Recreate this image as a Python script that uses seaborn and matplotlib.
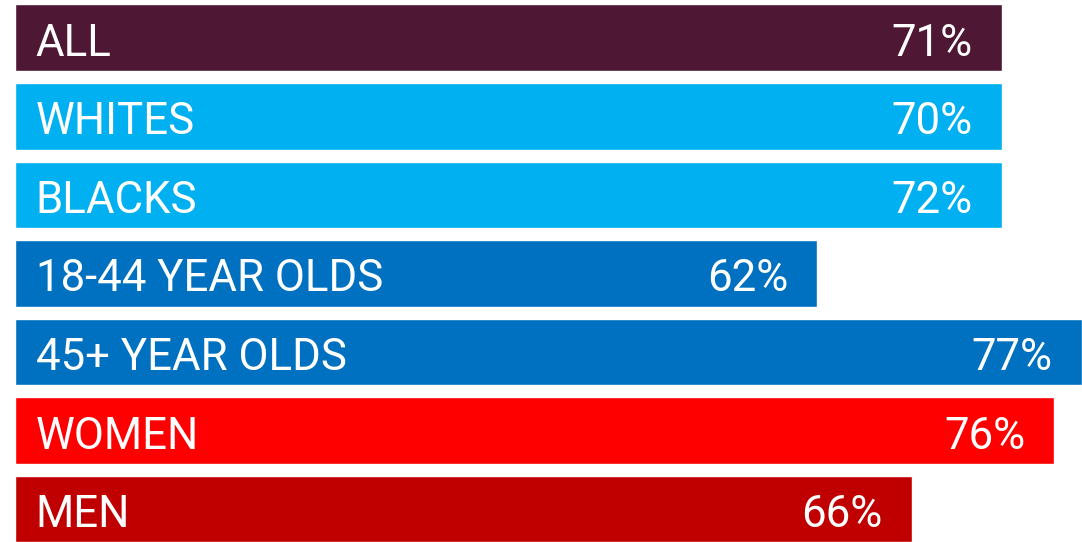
import matplotlib
matplotlib.use("Agg")
import matplotlib.pyplot as plt
import seaborn as sns
import pandas as pd

# groups, printed shares and the bar lengths as drawn (in % units)
groups = ["ALL", "WHITES", "BLACKS", "18-44 YEAR OLDS", "45+ YEAR OLDS", "WOMEN", "MEN"]
shares = [71, 70, 72, 62, 77, 76, 66]
bar_len = [71.2, 71.2, 71.2, 57.9, 77.0, 75.0, 64.7]
colors = ["#4E1733", "#00B0F0", "#00B0F0", "#0070C0", "#0070C0", "#FF0000", "#C00000"]

df = pd.DataFrame({"group": groups, "share": shares, "length": bar_len})

sns.set_style("white")
plt.rcParams["font.family"] = ["Roboto", "DejaVu Sans"]

fig = plt.figure(figsize=(10.82, 5.42), dpi=100)
ax = fig.add_axes([0, 0, 1, 1])

sns.barplot(data=df, x="length", y="group", hue="group", palette=colors,
            orient="h", width=0.847, legend=False, saturation=1, ax=ax)

# labels inside each bar
for i, row in df.iterrows():
    ax.annotate(row["group"], xy=(0, i), xytext=(15, -13), textcoords="offset points",
                ha="left", va="baseline", color="white", fontsize=31.5, fontweight="normal")
    ax.annotate(f"{row['share']}%", xy=(row["length"], i), xytext=(-21, -13),
                textcoords="offset points", ha="right", va="baseline",
                color="white", fontsize=31.5, fontweight="normal")

ax.set_xlim(-1.08, 77.0)
ax.set_ylim(6.42, -0.48)
ax.axis("off")

fig.savefig("out.png", dpi=100)
